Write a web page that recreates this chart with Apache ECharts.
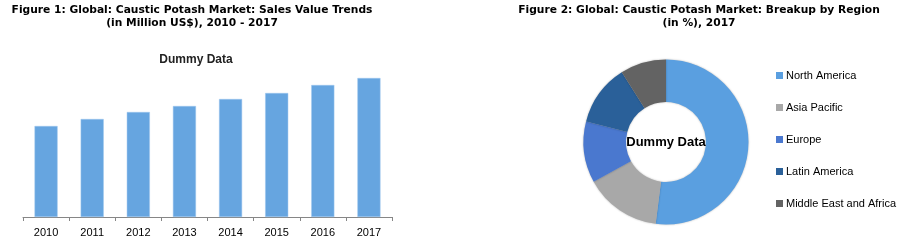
<!DOCTYPE html>
<html>
<head>
<meta charset="utf-8">
<script src="https://cdn.jsdelivr.net/npm/echarts@6/dist/echarts.min.js"></script>
<style>html,body{margin:0;padding:0;background:#fff}#c{width:903px;height:244px}</style>
</head>
<body>
<div id="c"></div>
<script>
const years = ['2010','2011','2012','2013','2014','2015','2016','2017'];
const salesValues = [91, 98, 105, 111, 118, 124, 132, 139];
const regions = ['North America','Asia Pacific','Europe','Latin America','Middle East and Africa'];
const regionShares = [52, 15, 12, 12, 9];
const regionColors = ['#5a9fe0','#a8a8a8','#4a78cf','#2a6099','#636363'];

const chart = echarts.init(document.getElementById('c'), null, {renderer:'canvas'});
const titleFont = {fontFamily:'DejaVu Sans', fontWeight:'bold', fontSize:10.7, color:'#000', lineHeight:13};
chart.setOption({
  animation:false,
  title:[
    {text:'Figure 1: Global: Caustic Potash Market: Sales Value Trends\n(in Million US$), 2010 - 2017', left:187, top:-1, textAlign:'center', textStyle:titleFont},
    {text:'Dummy Data', left:191, top:49, textAlign:'center', textStyle:{fontFamily:'Liberation Sans', fontWeight:'bold', fontSize:12, color:'#222'}},
    {text:'Figure 2: Global: Caustic Potash Market: Breakup by Region\n(in %), 2017', left:694, top:-1, textAlign:'center', textStyle:titleFont}
  ],
  grid:{left:23, right:903-392, top:72, bottom:244-217, containLabel:false},
  xAxis:{type:'category', data:years,
    axisLine:{lineStyle:{color:'#868686', width:1}},
    axisTick:{show:true, alignWithLabel:false, length:4, lineStyle:{color:'#868686'}},
    axisLabel:{color:'#000', fontFamily:'Liberation Sans', fontSize:11, margin:10}},
  yAxis:{type:'value', min:0, max:145, show:false, splitLine:{show:false}},
  legend:{orient:'vertical', left:776, top:70, padding:0, itemWidth:7, itemHeight:7, itemGap:21, icon:'rect',
    data:regions, textStyle:{fontFamily:'Liberation Sans', fontSize:11, color:'#000', padding:[0,0,0,-2]}},
  series:[
    {type:'bar', data:salesValues, barWidth:'50%', itemStyle:{color:'#66a5e0', borderColor:'#9fc7ee', borderWidth:0.5}},
    {type:'pie', center:[666,142], radius:[40,82.5], startAngle:90, clockwise:true,
      label:{show:true, position:'center', formatter:'Dummy Data', fontFamily:'Liberation Sans', fontWeight:'bold', fontSize:13, color:'#000'},
      labelLine:{show:false}, emphasis:{disabled:true},
      itemStyle:{shadowBlur:2, shadowColor:'rgba(0,0,0,0.3)'},
      data: regions.map((r,i)=>({name:r, value:regionShares[i], itemStyle:{color:regionColors[i]}}))
    }
  ]
});
</script>
</body>
</html>
